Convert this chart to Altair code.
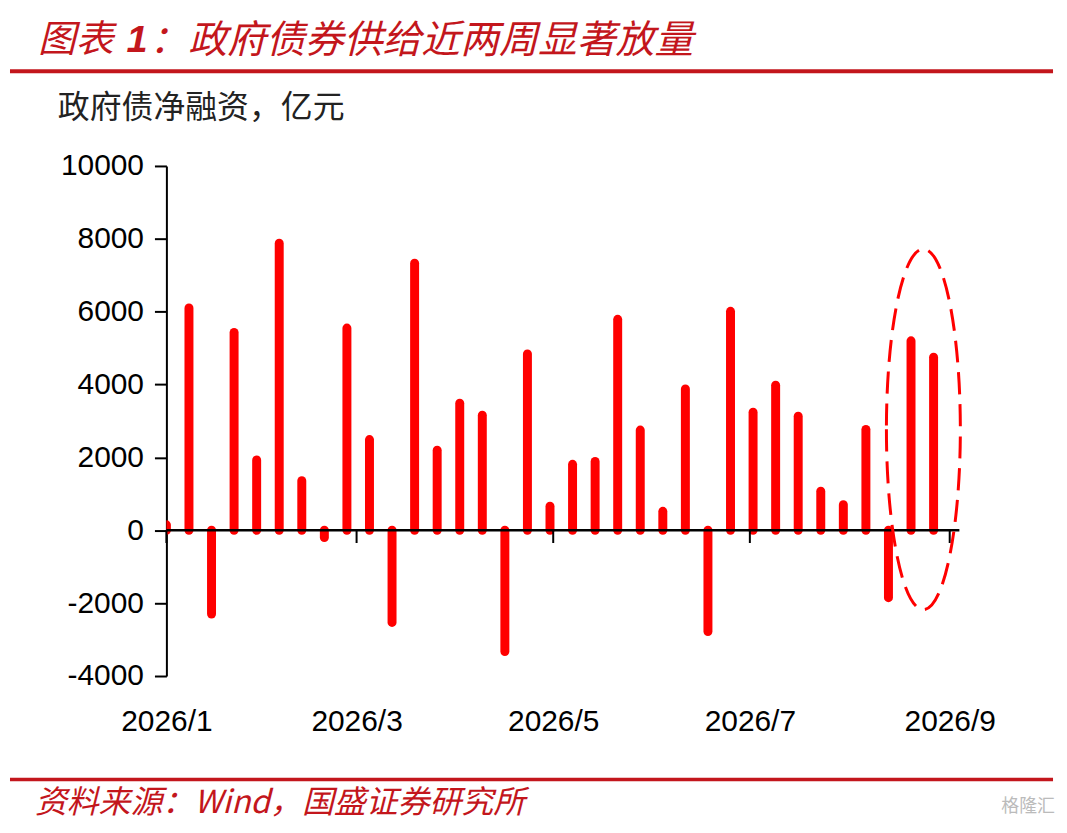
import altair as alt
import pandas as pd

# weekly government bond net financing, 100m yuan
weeks = [
    "2026-01-01", "2026-01-08", "2026-01-15", "2026-01-22", "2026-01-29",
    "2026-02-05", "2026-02-12", "2026-02-19", "2026-02-26",
    "2026-03-05", "2026-03-12", "2026-03-19", "2026-03-26",
    "2026-04-02", "2026-04-09", "2026-04-16", "2026-04-23", "2026-04-30",
    "2026-05-07", "2026-05-14", "2026-05-21", "2026-05-28",
    "2026-06-04", "2026-06-11", "2026-06-18", "2026-06-25",
    "2026-07-02", "2026-07-09", "2026-07-16", "2026-07-23", "2026-07-30",
    "2026-08-06", "2026-08-13", "2026-08-20", "2026-08-27",
]
net_financing = [
    150, 6100, -2300, 5430, 1930,
    7880, 1360, -200, 5550,
    2490, -2530, 7330, 2200,
    3490, 3160, -3330, 4840, 660,
    1810, 1890, 5790, 2750,
    520, 3880, -2780, 6010,
    3240, 3980, 3130, 1070, 700,
    2770, -1850, 5200, 4750,
]
month_ticks = ["2026-01-01", "2026-03-01", "2026-05-01", "2026-07-01", "2026-09-01"]
y_ticks = [-4000, -2000, 0, 2000, 4000, 6000, 8000, 10000]

# highlight ring around the last two weeks
ring_center = ["2026-08-23T20:00:00Z"]
ring_value = [2770]

RED = "#FF0000"
DARK_RED = "#C3161C"
CJK = "Noto Sans CJK SC"
NUM = "Liberation Sans"
ELLIPSE = "M -0.205 0 A 0.205 1 0 1 0 0.205 0 A 0.205 1 0 1 0 -0.205 0 Z"

df = pd.DataFrame({"week": weeks, "value": net_financing})

x_scale = alt.Scale(
    type="utc", nice=False,
    domain=[alt.DateTime(year=2026, month=1, date=1, utc=True),
            alt.DateTime(year=2026, month=9, date=4, utc=True)])
y_scale = alt.Scale(domain=[-4000, 10000], nice=False)

x_axis = alt.Axis(
    values=[alt.DateTime(year=int(d[:4]), month=int(d[5:7]), date=1, utc=True)
            for d in month_ticks],
    format="%Y/%-m", labelFlush=False, labelOverlap=False, domain=False,
    ticks=False, tickSize=0, grid=False, labelPadding=31, title=None,
    labelFont=NUM, labelFontSize=30, labelColor="black")
y_axis = alt.Axis(
    values=y_ticks, labelExpr="'' + datum.value", grid=False, title=None,
    tickSize=12, tickWidth=2, tickColor="black", domainColor="black",
    domainWidth=2, labelPadding=11,
    labelFont=NUM, labelFontSize=30, labelColor="black")

bars = alt.Chart(df).mark_rule(
    color=RED, strokeWidth=9, strokeCap="round", clip=True
).encode(
    x=alt.X("week:T", scale=x_scale, axis=x_axis),
    y=alt.Y("value:Q", scale=y_scale, axis=y_axis),
    y2=alt.datum(0),
)

zero_line = alt.Chart(pd.DataFrame({"v": [0]})).mark_rule(
    color="black", strokeWidth=2.5).encode(y="v:Q")

ticks = alt.Chart(pd.DataFrame({"m": month_ticks})).mark_rule(
    color="black", strokeWidth=2
).encode(x="m:T", y=alt.datum(0), y2=alt.datum(-350))

ring = alt.Chart(pd.DataFrame({"d": ring_center, "v": ring_value})).mark_point(
    shape=ELLIPSE, size=131044, filled=False, color=RED, opacity=1,
    strokeWidth=3, strokeDash=[22, 10]
).encode(x="d:T", y="v:Q")


def label(text, x, y, size, color, font=CJK, style="normal", weight="normal"):
    return alt.Chart(pd.DataFrame({"t": [text]})).mark_text(
        align="left", baseline="middle", font=font, fontSize=size,
        fontStyle=style, fontWeight=weight, color=color
    ).encode(text="t:N", x=alt.value(x), y=alt.value(y))


def hline(y, width):
    return alt.Chart(pd.DataFrame({"k": [0]})).mark_rule(
        color=DARK_RED, strokeWidth=width
    ).encode(x=alt.value(-157), x2=alt.value(890), y=alt.value(y))


texts = [
    label("图表", -129, -125, 38, DARK_RED, style="italic"),
    label("1", -40, -125, 38, DARK_RED, font=NUM, style="italic", weight="bold"),
    label("：政府债券供给近两周显著放量", -17, -125, 39, DARK_RED, style="italic"),
    label("政府债净融资，亿元", -109, -58, 32, "#222222"),
    label("资料来源：Wind，国盛证券研究所", -132, 640, 32, DARK_RED, style="italic"),
    label("格隆汇", 838, 644, 18, "#BBBBBB"),
]

chart = alt.layer(
    bars, zero_line, ticks, ring, hline(-95, 4), hline(616, 3.5), *texts
).properties(
    width=796, height=512, background="white",
    autosize=alt.AutoSizeParams(type="none"),
    padding={"left": 159, "top": 157, "right": 100, "bottom": 146},
).configure_view(stroke=None, strokeWidth=0)

chart.save("out.html", embed_options={"renderer": "svg", "actions": False})
